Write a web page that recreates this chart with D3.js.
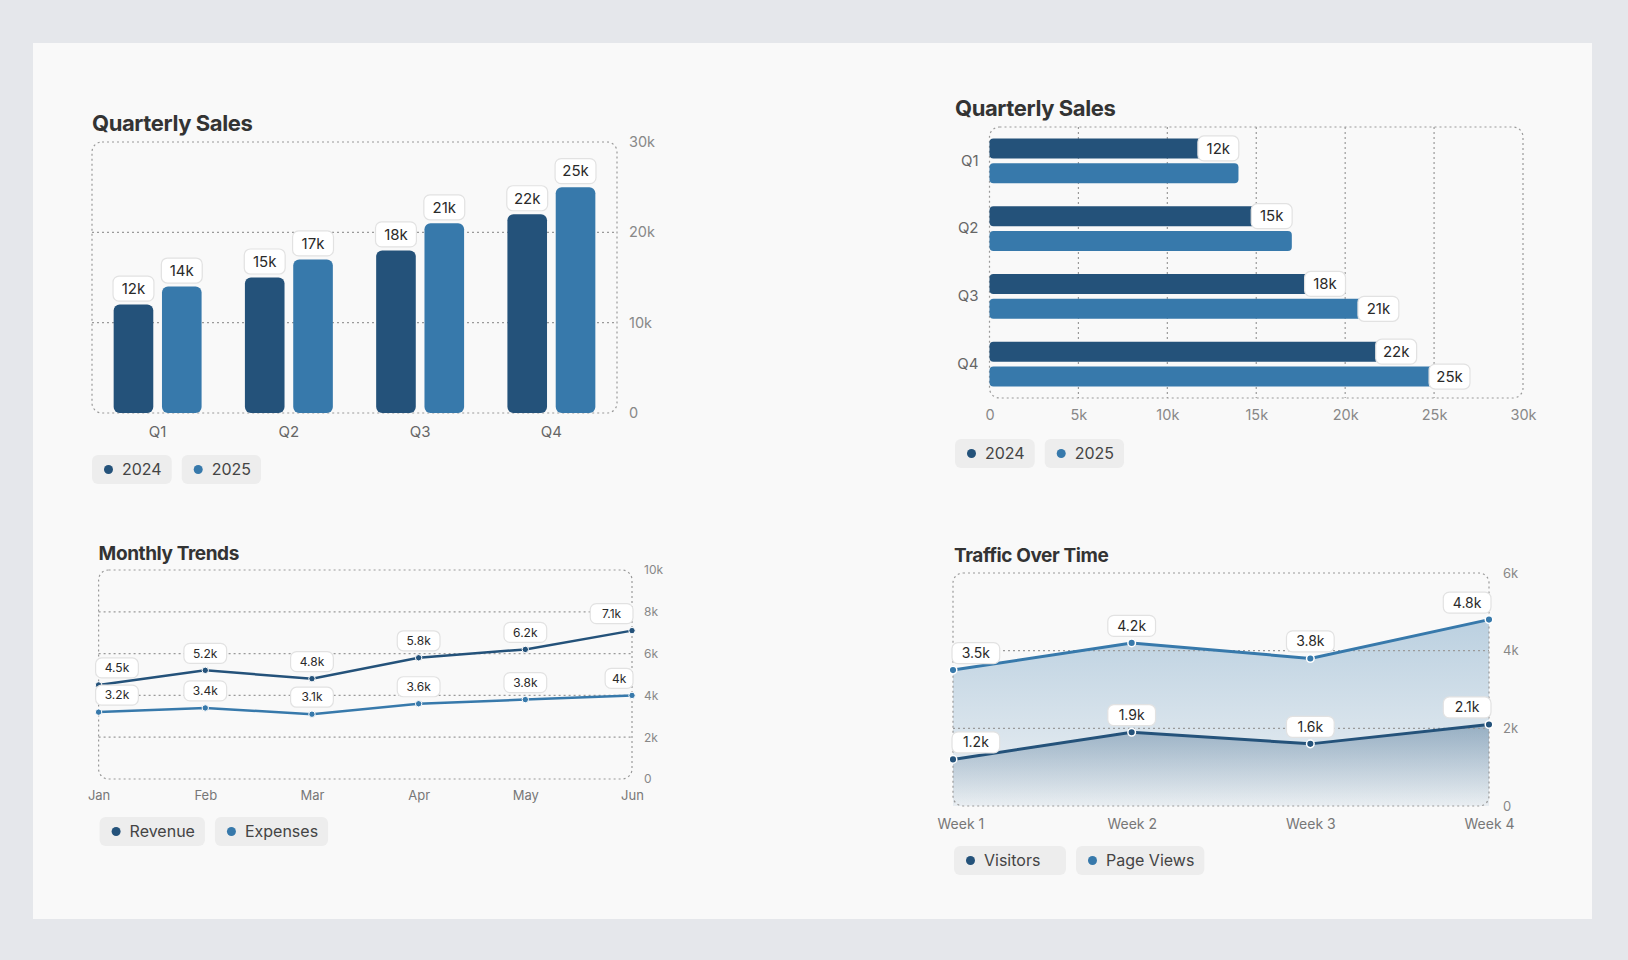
<!DOCTYPE html>
<html>
<head>
<meta charset="utf-8">
<script src="https://cdn.jsdelivr.net/npm/d3@7"></script>
<style>
  body { margin: 0; background: #e5e7eb; font-family: Inter, "Noto Sans", sans-serif; }
  svg text { font-family: Inter, "Noto Sans", sans-serif; }
</style>
</head>
<body>
<svg id="chart" width="1628" height="960"></svg>
<script>
// data (values in thousands)
var quarters = ["Q1", "Q2", "Q3", "Q4"];
var salesSeries = ["2024", "2025"];
var sales2024 = [12, 15, 18, 22];
var sales2025 = [14, 17, 21, 25];
var salesTicks = [0, 10, 20, 30];
var salesTicksH = [0, 5, 10, 15, 20, 25, 30];

var months = ["Jan", "Feb", "Mar", "Apr", "May", "Jun"];
var trendSeries = ["Revenue", "Expenses"];
var revenue = [4.5, 5.2, 4.8, 5.8, 6.2, 7.1];
var expenses = [3.2, 3.4, 3.1, 3.6, 3.8, 4.0];
var trendTicks = [0, 2, 4, 6, 8, 10];

var weeks = ["Week 1", "Week 2", "Week 3", "Week 4"];
var trafficSeries = ["Visitors", "Page Views"];
var visitors = [1.2, 1.9, 1.6, 2.1];
var pageViews = [3.5, 4.2, 3.8, 4.8];
var trafficTicks = [0, 2, 4, 6];

var dark = "#24527a", light = "#3779ab";
var colors = [dark, light];
var fmtTick = function(d) { return d === 0 ? "0" : d + "k"; };
var fmtVal = function(d) { return d + "k"; };

var svg = d3.select("#chart");

// card
svg.append("rect").attr("x", 33).attr("y", 43).attr("width", 1559).attr("height", 876)
  .attr("fill", "#f9f9f9");

var defs = svg.append("defs");

function title(x, y, text, size) {
  svg.append("text").attr("x", x).attr("y", y).text(text)
    .attr("font-size", size).attr("font-weight", 700).attr("fill", "#333")
    .attr("letter-spacing", -0.4);
}

function frame(x0, x1, y0, y1) {
  svg.append("rect").attr("x", x0).attr("y", y0)
    .attr("width", x1 - x0).attr("height", y1 - y0).attr("rx", 10)
    .attr("fill", "none").attr("stroke", "#9a9a9a").attr("stroke-width", 1.2)
    .attr("stroke-dasharray", "2,3");
}

function grid(lines) {
  svg.append("g").selectAll("line").data(lines).enter().append("line")
    .attr("x1", function(d) { return d[0]; }).attr("y1", function(d) { return d[1]; })
    .attr("x2", function(d) { return d[2]; }).attr("y2", function(d) { return d[3]; })
    .attr("stroke", "#9a9a9a").attr("stroke-width", 1.2).attr("stroke-dasharray", "2,3");
}

function cleanAxis(g, size, color) {
  g.select(".domain").remove();
  g.selectAll(".tick line").remove();
  g.selectAll("text").attr("font-size", size).attr("fill", color);
}

// keep first x tick label from running too far left
function clampLeft(g, scale, minX) {
  g.selectAll(".tick text").each(function(d) {
    var b = this.getBBox();
    var left = scale(d) + b.x;
    if (left < minX) d3.select(this).attr("x", minX - left);
  });
}

// value label: white rounded box with text; returns box or null if it collides
function valueLabel(g, cx, cy, text, size, h, placed, clamp, anchorLeft) {
  var w = text.length * size * 0.62 + 13;
  var x = anchorLeft ? cx : cx - w / 2;
  if (clamp) x = Math.max(clamp[0], Math.min(clamp[1] - w, x));
  var box = {x: x, y: cy - h / 2, w: w, h: h};
  if (placed) {
    var hit = placed.some(function(b) {
      return box.x < b.x + b.w + 3 && b.x < box.x + box.w + 3 &&
             box.y < b.y + b.h + 3 && b.y < box.y + box.h + 3;
    });
    if (hit) return null;
    placed.push(box);
  }
  g.append("rect")
    .attr("x", x).attr("y", box.y).attr("width", w).attr("height", h).attr("rx", 6)
    .attr("fill", "#fff").attr("stroke", "#e2e2e2").attr("stroke-width", 1.2);
  g.append("text").text(text).attr("font-size", size).attr("fill", "#2a2a2a")
    .attr("text-anchor", "middle").attr("dy", "0.35em")
    .attr("x", x + w / 2).attr("y", cy);
  return box;
}

function legend(x, y, names, size, minW) {
  var g = svg.append("g");
  var cx = x;
  names.forEach(function(n, i) {
    var item = g.append("g");
    var t = item.append("text").attr("x", cx + 30).attr("y", y + 14.5).attr("dy", "0.35em")
      .text(n).attr("font-size", size).attr("fill", "#444");
    var w = Math.max(t.node().getComputedTextLength() + 40, minW || 0);
    item.insert("rect", "text").attr("x", cx).attr("y", y).attr("width", w).attr("height", 29)
      .attr("rx", 6).attr("fill", "#ededed");
    item.append("circle").attr("cx", cx + 16.5).attr("cy", y + 14.5).attr("r", 4.5).attr("fill", colors[i]);
    cx += w + 10;
  });
}

// ---------- Quarterly Sales (vertical) ----------
(function() {
  var X0 = 92, X1 = 617, Y0 = 142, Y1 = 413;
  title(X0, 131, "Quarterly Sales", 22);
  var x = d3.scaleBand().domain(quarters).range([X0, X1]).paddingInner(0.33).paddingOuter(0.165);
  var x1 = d3.scaleBand().domain(salesSeries).range([0, x.bandwidth()]).paddingInner(0.18);
  var y = d3.scaleLinear().domain([0, 30]).range([Y1, Y0]);

  frame(X0, X1, Y0, Y1);
  grid([10, 20].map(function(v) { return [X0, y(v), X1, y(v)]; }));

  var rows = quarters.map(function(q, i) { return {q: q, vals: [sales2024[i], sales2025[i]]}; });
  var groups = svg.append("g").selectAll("g").data(rows).enter().append("g")
    .attr("transform", function(d) { return "translate(" + x(d.q) + ",0)"; });
  groups.selectAll("rect").data(function(d) { return d.vals; }).enter().append("rect")
    .attr("x", function(d, i) { return x1(salesSeries[i]); })
    .attr("y", function(d) { return y(d); })
    .attr("width", x1.bandwidth())
    .attr("height", function(d) { return y(0) - y(d); })
    .attr("rx", 6)
    .attr("fill", function(d, i) { return colors[i]; });

  var lg = svg.append("g");
  rows.forEach(function(r) {
    r.vals.forEach(function(v, i) {
      valueLabel(lg, x(r.q) + x1(salesSeries[i]) + x1.bandwidth() / 2, y(v) - 16, fmtVal(v), 15, 25);
    });
  });

  var ya = svg.append("g").attr("transform", "translate(" + (X1 + 4) + ",0)")
    .call(d3.axisRight(y).tickValues(salesTicks).tickFormat(fmtTick).tickSize(0).tickPadding(8));
  cleanAxis(ya, 14.5, "#888");
  var xa = svg.append("g").attr("transform", "translate(0," + (Y1 + 10) + ")")
    .call(d3.axisBottom(x).tickSize(0).tickPadding(3));
  cleanAxis(xa, 15, "#666");

  legend(X0, 455, salesSeries, 16);
})();

// ---------- Quarterly Sales (horizontal) ----------
(function() {
  var X0 = 989.5, X1 = 1523, Y0 = 127, Y1 = 398;
  title(955, 116, "Quarterly Sales", 22);
  var y = d3.scaleBand().domain(quarters).range([Y0, Y1]).paddingInner(0.34).paddingOuter(0.17);
  var y1 = d3.scaleBand().domain(salesSeries).range([0, y.bandwidth()]).paddingInner(0.2);
  var x = d3.scaleLinear().domain([0, 30]).range([X0, X1]);

  frame(X0, X1, Y0, Y1);
  grid([5, 10, 15, 20, 25].map(function(v) { return [x(v), Y0, x(v), Y1]; }));

  var rows = quarters.map(function(q, i) { return {q: q, vals: [sales2024[i], sales2025[i]]}; });
  var groups = svg.append("g").selectAll("g").data(rows).enter().append("g")
    .attr("transform", function(d) { return "translate(0," + y(d.q) + ")"; });
  groups.selectAll("rect").data(function(d) { return d.vals; }).enter().append("rect")
    .attr("x", x(0))
    .attr("y", function(d, i) { return y1(salesSeries[i]); })
    .attr("width", function(d) { return x(d) - x(0); })
    .attr("height", y1.bandwidth())
    .attr("rx", 4)
    .attr("fill", function(d, i) { return colors[i]; });

  var lg = svg.append("g");
  var placed = [];
  rows.forEach(function(r) {
    r.vals.forEach(function(v, i) {
      valueLabel(lg, x(v) - 5, y(r.q) + y1(salesSeries[i]) + y1.bandwidth() / 2, fmtVal(v), 15, 25, placed, null, true);
    });
  });

  var xa = svg.append("g").attr("transform", "translate(0," + (Y1 + 9) + ")")
    .call(d3.axisBottom(x).tickValues(salesTicksH).tickFormat(fmtTick).tickSize(0).tickPadding(3));
  cleanAxis(xa, 14.5, "#888");
  var ya = svg.append("g").attr("transform", "translate(" + (X0 - 11) + ",0)")
    .call(d3.axisLeft(y).tickSize(0).tickPadding(0));
  cleanAxis(ya, 15, "#666");

  legend(955, 439, salesSeries, 16);
})();

// ---------- Monthly Trends ----------
(function() {
  var X0 = 98.6, X1 = 632, Y0 = 570, Y1 = 779;
  title(X0, 560, "Monthly Trends", 19);
  var x = d3.scalePoint().domain(months).range([X0, X1]);
  var y = d3.scaleLinear().domain([0, 10]).range([Y1, Y0]);

  frame(X0, X1, Y0, Y1);
  grid([2, 4, 6, 8].map(function(v) { return [X0, y(v), X1, y(v)]; }));

  var line = d3.line().x(function(d, i) { return x(months[i]); }).y(function(d) { return y(d); });
  var sets = [revenue, expenses];
  sets.forEach(function(vals, s) {
    svg.append("path").datum(vals).attr("d", line).attr("fill", "none")
      .attr("stroke", colors[s]).attr("stroke-width", 2.5);
    svg.append("g").selectAll("circle").data(vals).enter().append("circle")
      .attr("cx", function(d, i) { return x(months[i]); }).attr("cy", function(d) { return y(d); })
      .attr("r", 3.2).attr("fill", colors[s]).attr("stroke", "#fff").attr("stroke-width", 1);
  });
  var lg = svg.append("g");
  sets.forEach(function(vals) {
    vals.forEach(function(v, i) {
      valueLabel(lg, x(months[i]), y(v) - 17, fmtVal(v), 12, 20, null, [X0 - 3, X1 + 1]);
    });
  });

  var ya = svg.append("g").attr("transform", "translate(" + (X1 + 10) + ",0)")
    .call(d3.axisRight(y).tickValues(trendTicks).tickFormat(fmtTick).tickSize(0).tickPadding(2));
  cleanAxis(ya, 12, "#888");
  var xa = svg.append("g").attr("transform", "translate(0," + (Y1 + 9) + ")")
    .call(d3.axisBottom(x).tickSize(0).tickPadding(3));
  cleanAxis(xa, 13, "#777");

  legend(99.6, 817, trendSeries, 16);
})();

// ---------- Traffic Over Time ----------
(function() {
  var X0 = 953, X1 = 1489, Y0 = 573, Y1 = 806;
  title(954, 562, "Traffic Over Time", 19);
  var x = d3.scalePoint().domain(weeks).range([X0, X1]);
  var y = d3.scaleLinear().domain([0, 6]).range([Y1, Y0]);

  [["gPv", light, 0.32, 0.06], ["gVis", dark, 0.36, 0.02]].forEach(function(g) {
    var lgd = defs.append("linearGradient").attr("id", g[0])
      .attr("x1", 0).attr("y1", 0).attr("x2", 0).attr("y2", 1);
    lgd.append("stop").attr("offset", "0%").attr("stop-color", g[1]).attr("stop-opacity", g[2]);
    lgd.append("stop").attr("offset", "100%").attr("stop-color", g[1]).attr("stop-opacity", g[3]);
  });

  var area = d3.area().x(function(d, i) { return x(weeks[i]); }).y0(y(0)).y1(function(d) { return y(d); });
  svg.append("path").datum(pageViews).attr("d", area).attr("fill", "url(#gPv)");
  svg.append("path").datum(visitors).attr("d", area).attr("fill", "url(#gVis)");

  frame(X0, X1, Y0, Y1);
  grid([2, 4].map(function(v) { return [X0, y(v), X1, y(v)]; }));

  var line = d3.line().x(function(d, i) { return x(weeks[i]); }).y(function(d) { return y(d); });
  var sets = [visitors, pageViews];
  sets.forEach(function(vals, s) {
    svg.append("path").datum(vals).attr("d", line).attr("fill", "none")
      .attr("stroke", colors[s]).attr("stroke-width", 3);
    svg.append("g").selectAll("circle").data(vals).enter().append("circle")
      .attr("cx", function(d, i) { return x(weeks[i]); }).attr("cy", function(d) { return y(d); })
      .attr("r", 3.8).attr("fill", colors[s]).attr("stroke", "#fff").attr("stroke-width", 1.5);
  });
  var lg = svg.append("g");
  sets.forEach(function(vals) {
    vals.forEach(function(v, i) {
      valueLabel(lg, x(weeks[i]), y(v) - 17, fmtVal(v), 14, 21, null, [X0 - 1, X1 + 2]);
    });
  });

  var ya = svg.append("g").attr("transform", "translate(" + (X1 + 12) + ",0)")
    .call(d3.axisRight(y).tickValues(trafficTicks).tickFormat(fmtTick).tickSize(0).tickPadding(2));
  cleanAxis(ya, 13, "#888");
  var xa = svg.append("g").attr("transform", "translate(0," + (Y1 + 10) + ")")
    .call(d3.axisBottom(x).tickSize(0).tickPadding(3));
  cleanAxis(xa, 14, "#777");
  clampLeft(xa, x, X0 - 16);

  legend(954, 846, trafficSeries, 16, 112);
})();
</script>
</body>
</html>
